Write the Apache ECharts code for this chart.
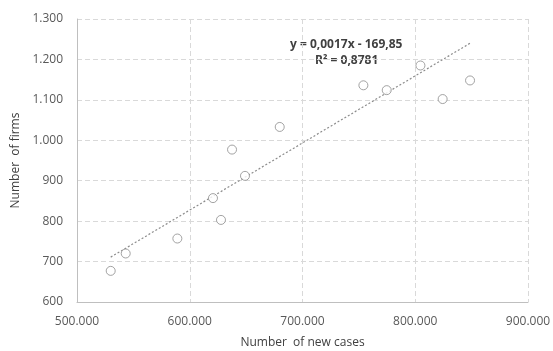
<!DOCTYPE html>
<html>
<head>
<meta charset="utf-8">
<script src="https://cdn.jsdelivr.net/npm/echarts@6/dist/echarts.min.js"></script>
<style>
  html, body { margin: 0; padding: 0; background: #fff; }
  #chart { width: 553px; height: 351px; }
</style>
</head>
<body>
<div id="chart"></div>
<script>
// new cases (x) and number of firms (y)
const newCases = [529900, 543200, 589000, 620600, 627700, 637500, 649000, 679800, 754000, 774700, 804600, 824300, 848600]
const firms    = [677, 720, 757, 857, 803, 977, 912, 1033, 1136, 1124, 1185, 1102, 1148]
// linear trendline ends, as drawn in the picture
const trendX   = [529900, 848600]
const trendY   = [711, 1240]
const xTicks   = [500000, 600000, 700000, 800000, 900000]
const yTicks   = [600, 700, 800, 900, 1000, 1100, 1200, 1300]
const eqText   = 'y = 0,0017x - 169,85'
const r2Text   = 'R² = 0,8781'

const points = newCases.map((x, i) => [x, firms[i]])
const trend  = trendX.map((x, i) => [x, trendY[i]])

function fmt(v) {
  return String(v).replace(/\B(?=(\d{3})+(?!\d))/g, '.')
}

const font = '"Open Sans", "Noto Sans", sans-serif'
const chart = echarts.init(document.getElementById('chart'), null, { renderer: 'canvas' })

chart.setOption({
  backgroundColor: '#fff',
  animation: false,
  grid: { left: 77, right: 25, top: 19, bottom: 49, outerBoundsMode: 'none', containLabel: false },
  xAxis: {
    type: 'value', min: xTicks[0], max: xTicks[xTicks.length - 1], interval: 100000,
    name: 'Number  of new cases', nameLocation: 'middle', nameGap: 35,
    nameTextStyle: { color: '#404040', fontSize: 12, fontFamily: font },
    axisLine: { show: true, lineStyle: { color: '#bfbfbf' } },
    axisTick: { show: false },
    axisLabel: { color: '#595959', fontSize: 12, fontFamily: font, margin: 14, formatter: fmt },
    splitLine: { lineStyle: { color: '#d9d9d9', type: [5, 3] } },
  },
  yAxis: {
    type: 'value', min: yTicks[0], max: yTicks[yTicks.length - 1], interval: 100,
    name: 'Number  of firms', nameLocation: 'middle', nameGap: 53, nameRotate: 90,
    nameTextStyle: { color: '#404040', fontSize: 12, fontFamily: font },
    axisLine: { show: true, lineStyle: { color: '#bfbfbf' } },
    axisTick: { show: false },
    axisLabel: { color: '#595959', fontSize: 12, fontFamily: font, margin: 14, formatter: fmt },
    splitLine: { lineStyle: { color: '#d9d9d9', type: [5, 3] } },
  },
  series: [
    {
      type: 'line', data: trend, symbol: 'none', silent: true,
      lineStyle: { color: '#8c8c8c', width: 1.2, type: [2, 2] },
      z: 1,
    },
    {
      type: 'scatter', data: points, symbol: 'circle', symbolSize: 9,
      itemStyle: { color: '#fff', borderColor: '#8c8c8c', borderWidth: 1 },
      z: 2,
    },
  ],
  graphic: [
    { type: 'text', left: 290, top: 39, style: { text: eqText, fill: '#404040', font: 'bold 12px ' + font } },
    { type: 'text', left: 315, top: 55, style: { text: r2Text, fill: '#404040', font: 'bold 12px ' + font } },
  ],
})
</script>
</body>
</html>
